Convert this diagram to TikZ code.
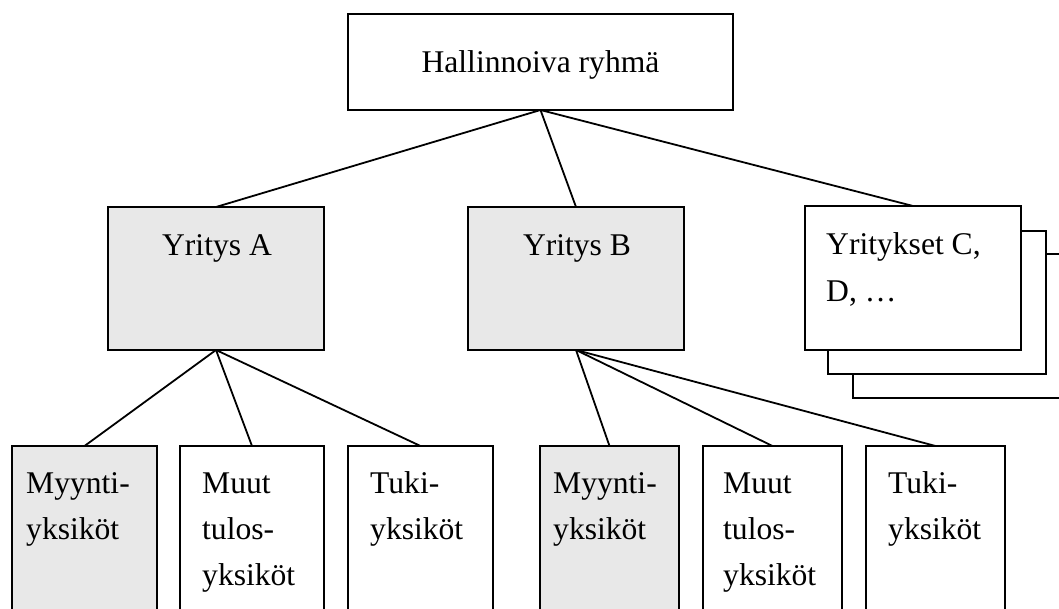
\documentclass[tikz,border=0pt]{standalone}
\usepackage{fontspec}
\setmainfont{Liberation Serif}
\definecolor{unitgray}{HTML}{E8E8E8}
\begin{document}
\begin{tikzpicture}[x=1pt, y=-1pt,
  box/.style={draw=black, line width=2pt, fill=white, inner sep=0pt, outer sep=0pt},
  graybox/.style={box, fill=unitgray},
  link/.style={draw=black, line width=1.8pt},
  lbl/.style={inner sep=0pt, font=\fontsize{31.6}{46}\selectfont},
]
\clip (0,0) rectangle (1059,609);
\fill[white] (0,0) rectangle (1059,609);

% management group
\node[box, minimum width=385pt, minimum height=96pt] (top) at (540.5,62) {};
\node[lbl, anchor=base] (toptxt) at (540.5,73) {Hallinnoiva ryhmä};

% companies
\node[graybox, minimum width=216pt, minimum height=143pt] (A) at (216,278.5) {};
\node[lbl, anchor=base] (Atxt) at (217,256) {Yritys A};
\node[graybox, minimum width=216pt, minimum height=143pt] (B) at (576,278.5) {};
\node[lbl, anchor=base] (Btxt) at (577,256) {Yritys B};

% stacked boxes for the remaining companies
\node[box, minimum width=218pt, minimum height=144pt] (C3) at (962,326) {};
\node[box, minimum width=218pt, minimum height=143pt] (C2) at (937,302.5) {};
\node[box, minimum width=216pt, minimum height=144pt] (C) at (913,278) {};
\node[lbl, anchor=base west] (Ctxt) at (826,255)
  {\begin{tabular}[t]{@{}l@{}}Yritykset C,\\[1pt]D, \dots\end{tabular}};

% units of company A
\node[graybox, minimum width=145pt, minimum height=200pt] (A1) at (84.5,546) {};
\node[box, minimum width=144pt, minimum height=200pt] (A2) at (252,546) {};
\node[box, minimum width=145pt, minimum height=200pt] (A3) at (420.5,546) {};
% units of company B
\node[graybox, minimum width=139pt, minimum height=200pt] (B1) at (609.5,546) {};
\node[box, minimum width=139pt, minimum height=200pt] (B2) at (772.5,546) {};
\node[box, minimum width=139pt, minimum height=200pt] (B3) at (935.5,546) {};

\node[lbl, anchor=base west] (A1txt) at (26,493)
  {\begin{tabular}[t]{@{}l@{}}Myynti-\\yksiköt\end{tabular}};
\node[lbl, anchor=base west] (A2txt) at (202,493)
  {\begin{tabular}[t]{@{}l@{}}Muut\\tulos-\\yksiköt\end{tabular}};
\node[lbl, anchor=base west] (A3txt) at (370,493)
  {\begin{tabular}[t]{@{}l@{}}Tuki-\\yksiköt\end{tabular}};
\node[lbl, anchor=base west] (B1txt) at (553,493)
  {\begin{tabular}[t]{@{}l@{}}Myynti-\\yksiköt\end{tabular}};
\node[lbl, anchor=base west] (B2txt) at (723,493)
  {\begin{tabular}[t]{@{}l@{}}Muut\\tulos-\\yksiköt\end{tabular}};
\node[lbl, anchor=base west] (B3txt) at (888,493)
  {\begin{tabular}[t]{@{}l@{}}Tuki-\\yksiköt\end{tabular}};

% connectors
\draw[link] (top.south) -- (A.north);
\draw[link] (top.south) -- (B.north);
\draw[link] (top.south) -- (C.north);
\draw[link] (A.south) -- (A1.north);
\draw[link] (A.south) -- (A2.north);
\draw[link] (A.south) -- (A3.north);
\draw[link] (B.south) -- (B1.north);
\draw[link] (B.south) -- (B2.north);
\draw[link] (B.south) -- (B3.north);
\end{tikzpicture}
\end{document}
